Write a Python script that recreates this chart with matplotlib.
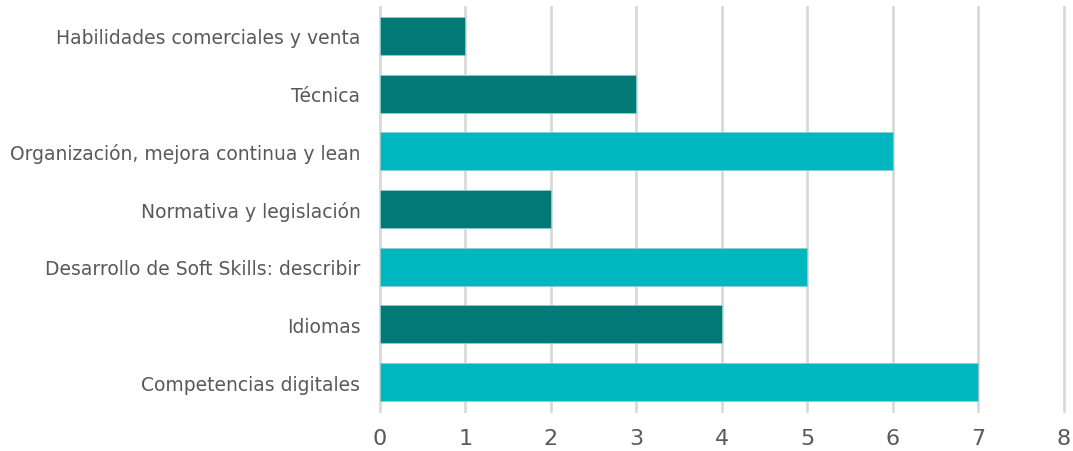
import matplotlib
matplotlib.use('Agg')
import matplotlib.pyplot as plt

categories = [
    'Habilidades comerciales y venta',
    'Técnica',
    'Organización, mejora continua y lean',
    'Normativa y legislación',
    'Desarrollo de Soft Skills: describir',
    'Idiomas',
    'Competencias digitales',
]
values = [1, 3, 6, 2, 5, 4, 7]
shades = ['dark', 'dark', 'light', 'dark', 'light', 'dark', 'light']

palette = {'dark': '#007977', 'light': '#00B6BF'}
text_color = '#595959'

fig = plt.figure(figsize=(10.73, 4.52), dpi=100)
ax = fig.add_axes([0.354, 0.0885, 0.6375, 0.8935])

y = list(range(len(categories)))
ax.barh(y, values, height=0.66, color=[palette[s] for s in shades],
        edgecolor='#8ccfcf', linewidth=0.6, zorder=3)

ax.set_ylim(len(categories) - 0.5, -0.5)
ax.set_xlim(0, 8)
ax.set_xticks(range(0, 9))
ax.set_yticks(y)
ax.set_yticklabels(categories)

ax.grid(axis='x', color='#d9d9d9', linewidth=2, zorder=0)
for line in ax.get_xgridlines():
    line.set_clip_on(False)
for side in ['top', 'right', 'bottom', 'left']:
    ax.spines[side].set_visible(False)

ax.tick_params(axis='both', length=0, colors=text_color)
ax.tick_params(axis='x', labelsize=16, pad=12)
ax.tick_params(axis='y', labelsize=13.5, pad=14)

fig.savefig('out.png', dpi=100)
